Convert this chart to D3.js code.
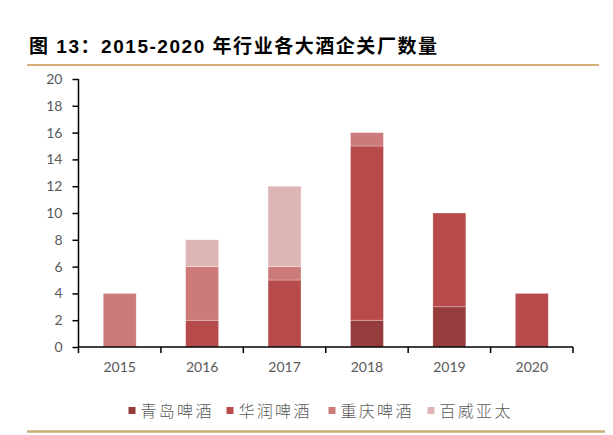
<!DOCTYPE html>
<html lang="zh">
<head>
    <meta charset="UTF-8">
    <title>2015-2020 年行业各大酒企关厂数量</title>
    <script src="https://d3js.org/d3.v7.min.js"></script>
    <style>
        body { margin: 0; background: #fff; }
        .tick text { fill: #595959; }
    </style>
</head>
<body>
<div id="fig"></div>
<script>
    // 数据
    let years = ["2015", "2016", "2017", "2018", "2019", "2020"]
    let series = ["青岛啤酒", "华润啤酒", "重庆啤酒", "百威亚太"]
    let qingdao = [0, 0, 0, 2, 3, 0]
    let huarun = [0, 2, 5, 13, 7, 4]
    let chongqing = [4, 4, 1, 1, 0, 0]
    let baiwei = [0, 2, 6, 0, 0, 0]
    let yTicks = [0, 2, 4, 6, 8, 10, 12, 14, 16, 18, 20]
    let colors = ["#973c3c", "#b74a4a", "#cc7a7a", "#ddb5b5"]

    let W = 613, H = 435
    let plotL = 78.5, plotR = 573, plotT = 79, plotB = 347

    let svg = d3.select("#fig").append("svg")
        .attr("width", W).attr("height", H)

    // 标题
    svg.append("text")
        .attr("x", 29).attr("y", 53)
        .attr("font-family", "'Liberation Sans', 'Noto Sans CJK SC', sans-serif")
        .attr("font-weight", "bold")
        .attr("font-size", 19)
        .attr("textLength", 408)
        .attr("lengthAdjust", "spacing")
        .attr("fill", "#000")
        .text("图 13：2015-2020 年行业各大酒企关厂数量")

    svg.append("line")
        .attr("x1", 27).attr("x2", 599).attr("y1", 65).attr("y2", 65)
        .attr("stroke", "#c8964b").attr("stroke-width", 1.5)
    svg.append("line")
        .attr("x1", 27).attr("x2", 605).attr("y1", 431.5).attr("y2", 431.5)
        .attr("stroke", "#c9ad72").attr("stroke-width", 2.5)

    let table = years.map((yr, i) => ({
        year: yr,
        "青岛啤酒": qingdao[i], "华润啤酒": huarun[i],
        "重庆啤酒": chongqing[i], "百威亚太": baiwei[i]
    }))
    let stacked = d3.stack().keys(series)(table)

    let x = d3.scaleBand().domain(years).range([plotL, plotR]).paddingInner(0.6).paddingOuter(0.3)
    let xb = d3.scaleBand().domain(years).range([plotL, plotR])
    let y = d3.scaleLinear().domain([0, 20]).range([plotB, plotT])

    let g = svg.append("g")
    g.selectAll("g.layer").data(stacked).join("g")
        .attr("class", "layer")
        .attr("fill", (d, i) => colors[i])
        .selectAll("rect")
        .data(d => d.filter(s => s[1] > s[0]))
        .join("rect")
        .attr("x", d => x(d.data.year))
        .attr("width", x.bandwidth())
        .attr("y", d => y(d[1]))
        .attr("height", d => y(d[0]) - y(d[1]))
        .attr("stroke", "#fff").attr("stroke-width", 0.6).attr("stroke-opacity", 0.5)

    // y 轴
    let yAxis = svg.append("g")
        .attr("transform", `translate(${plotL},0)`)
        .call(d3.axisLeft(y).tickValues(yTicks).tickSize(6).tickPadding(10))
    yAxis.selectAll("text").attr("font-family", "Lato, 'Open Sans', sans-serif").attr("font-size", 14)
    yAxis.select(".domain").attr("stroke-width", 1.5).attr("d", `M-0,${plotT}H0V${plotB}`)
    yAxis.selectAll("line").attr("stroke-width", 1.5)

    // x 轴
    let xAxis = svg.append("g")
        .attr("transform", `translate(0,${plotB})`)
        .call(d3.axisBottom(xb).tickSize(0).tickPadding(15))
    xAxis.selectAll("text").attr("font-family", "Lato, 'Open Sans', sans-serif").attr("font-size", 14)
    xAxis.select(".domain").attr("stroke-width", 1.5).attr("d", `M${plotL},0H${plotR}`)
    let bounds = years.map(d => xb(d) + xb.bandwidth()).concat([plotL])
    xAxis.selectAll("line.sep").data(bounds).join("line")
        .attr("class", "sep")
        .attr("x1", d => d).attr("x2", d => d)
        .attr("y1", 0).attr("y2", 6)
        .attr("stroke", "#000").attr("stroke-width", 1.5)

    // 图例
    let legendX = [128.5, 226.5, 328.5, 427.5]
    let legend = svg.append("g")
    series.forEach((s, i) => {
        legend.append("rect")
            .attr("x", legendX[i]).attr("y", 407)
            .attr("width", 7).attr("height", 7)
            .attr("fill", colors[i])
        legend.append("text")
            .attr("x", legendX[i] + 12).attr("y", 417)
            .attr("font-family", "'Noto Sans CJK SC', sans-serif")
            .attr("font-size", 16)
            .attr("font-weight", 300)
            .attr("letter-spacing", 2.3)
            .attr("fill", "#595959")
            .text(s)
    })
</script>
</body>
</html>
